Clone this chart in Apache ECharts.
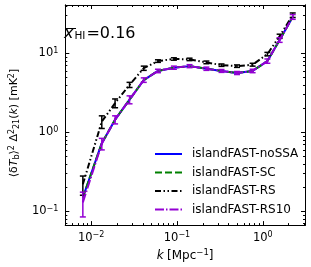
<!DOCTYPE html>
<html><head><meta charset="utf-8">
<script src="https://cdn.jsdelivr.net/npm/echarts@6/dist/echarts.min.js"></script>
<style>html,body{margin:0;padding:0;background:#fff}#c{width:311px;height:267px}</style>
</head><body><div id="c"></div>
<script>
const kVals = [0.008, 0.0133, 0.019, 0.028, 0.041, 0.06, 0.092, 0.14, 0.22, 0.33, 0.5, 0.76, 1.13, 1.57, 2.23];
const noSSA = [0.15, 0.73, 1.45, 2.6, 4.6, 6.0, 6.6, 6.9, 6.4, 6.0, 5.65, 6.0, 8.0, 14.8, 29];
const SC    = [0.15, 0.73, 1.45, 2.6, 4.6, 6.0, 6.6, 6.9, 6.4, 6.0, 5.65, 6.0, 8.0, 14.8, 29];
const RS    = [0.22, 1.37, 2.35, 4.0, 6.5, 8.0, 8.5, 8.4, 7.7, 7.1, 6.9, 7.2, 9.8, 16.5, 30.5];
const RS10  = [0.13, 0.72, 1.45, 2.6, 4.6, 6.0, 6.6, 6.9, 6.4, 6.0, 5.65, 6.0, 8.0, 14.8, 29];
const RSerr   = [0.06, 0.25, 0.3, 0.3, 0.4, 0.3, 0.3, 0.3, 0.3, 0.25, 0.25, 0.3, 0.5, 1.0, 2.0];
const RS10err = [0.045, 0.12, 0.17, 0.3, 0.3, 0.3, 0.3, 0.3, 0.3, 0.25, 0.25, 0.3, 0.5, 1.0, 2.0];
const seriesNames = ['islandFAST-noSSA', 'islandFAST-SC', 'islandFAST-RS', 'islandFAST-RS10'];
const xMajor = [0.01, 0.1, 1];
const yMajor = [0.1, 1, 10];
const xMin = 0.005, xMax = 3.1, yMin = 0.067, yMax = 41;

function minors(lo, hi) {
  const out = [];
  for (let e = Math.floor(Math.log10(lo)); e <= Math.ceil(Math.log10(hi)); e++) {
    for (let m = 2; m <= 9; m++) { const v = m * Math.pow(10, e); if (v >= lo && v <= hi) out.push(v); }
  }
  return out;
}
const xMinor = minors(xMin, xMax), yMinor = minors(yMin, yMax);

const FONT = 'DejaVu Sans';
function powLabel(v) {
  const e = Math.round(Math.log10(v));
  return '{b|10}{s|' + (e < 0 ? '\u2212' + (-e) : e) + '}';
}
const labRich = { b: { fontSize: 11.5, fontFamily: FONT, color: '#000' }, s: { fontSize: 8, fontFamily: FONT, color: '#000', verticalAlign: 'top', padding: [0, 0, 5, 0] } };

function mkX(pos, custom, len, showLabel, extra) {
  return Object.assign({
    type: 'log', logBase: 10, min: xMin, max: xMax, position: pos, gridIndex: 0,
    axisLine: { show: true, onZero: false, lineStyle: { color: '#000', width: 1 } },
    axisTick: { show: true, inside: true, length: len, customValues: custom, lineStyle: { color: '#000', width: 1 } },
    axisLabel: showLabel ? { show: true, customValues: xMajor, formatter: powLabel, rich: labRich, margin: 6 } : { show: false },
    splitLine: { show: false }, minorTick: { show: false }
  }, extra || {});
}
function mkY(pos, custom, len, showLabel, extra) {
  return Object.assign({
    type: 'log', logBase: 10, min: yMin, max: yMax, position: pos, gridIndex: 0,
    axisLine: { show: true, onZero: false, lineStyle: { color: '#000', width: 1 } },
    axisTick: { show: true, inside: true, length: len, customValues: custom, lineStyle: { color: '#000', width: 1 } },
    axisLabel: showLabel ? { show: true, customValues: yMajor, formatter: powLabel, rich: labRich, margin: 7 } : { show: false },
    splitLine: { show: false }, minorTick: { show: false }
  }, extra || {});
}

function pairs(vals) { return kVals.map((k, i) => [k, vals[i]]); }
function errData(vals, errs) { return kVals.map((k, i) => [k, vals[i], errs[i]]); }
function errSeries(name, vals, errs, color, z) {
  return {
    type: 'custom', name: name + '-err', xAxisIndex: 0, yAxisIndex: 0, z: z,
    data: errData(vals, errs), encode: { x: 0, y: 1 }, silent: true,
    renderItem: function (params, api) {
      const k = api.value(0), v = api.value(1), e = api.value(2);
      const p1 = api.coord([k, Math.max(v - e, 1e-4)]);
      const p2 = api.coord([k, v + e]);
      const st = { stroke: color, lineWidth: 1.5 };
      return { type: 'group', children: [
        { type: 'line', shape: { x1: p1[0], y1: p1[1], x2: p2[0], y2: p2[1] }, style: st },
        { type: 'line', shape: { x1: p1[0] - 3, y1: p1[1], x2: p1[0] + 3, y2: p1[1] }, style: st },
        { type: 'line', shape: { x1: p2[0] - 3, y1: p2[1], x2: p2[0] + 3, y2: p2[1] }, style: st }
      ] };
    }
  };
}
function lineSeries(name, vals, color, dash, z) {
  return {
    type: 'line', name: name, data: pairs(vals), xAxisIndex: 0, yAxisIndex: 0, z: z,
    symbol: 'none', showSymbol: false, smooth: false,
    lineStyle: { color: color, width: 2, type: dash },
    itemStyle: { color: color }
  };
}

const chart = echarts.init(document.getElementById('c'), null, { renderer: 'canvas' });
chart.setOption({
  animation: false,
  backgroundColor: '#fff',
  grid: { left: 49, right: 6, top: 5, bottom: 36, containLabel: false },
  xAxis: [
    mkX('bottom', xMajor, 4, true, { name: '{i|k} {n|[Mpc}{s|\u22121}{n|]}', nameLocation: 'middle', nameGap: 21,
      nameTextStyle: { rich: { i: { fontSize: 12, fontFamily: FONT, fontStyle: 'italic', color: '#000' }, n: { fontSize: 12, fontFamily: FONT, color: '#000' }, s: { fontSize: 8.5, fontFamily: FONT, color: '#000', verticalAlign: 'top', padding: [0, 0, 6, 0] } } } }),
    mkX('bottom', xMinor, 2, false),
    mkX('top', xMajor, 4, false),
    mkX('top', xMinor, 2, false)
  ],
  yAxis: [
    mkY('left', yMajor, 4, true, { name: '{n|\u27E8\u03B4}{i|T}{sb|b}{n|\u27E9}{sp|2}{n| \u0394}{sp|2}{sb|21}{n|(}{i|k}{n|) [mK}{sp|2}{n|]}', nameLocation: 'middle', nameGap: 31, nameRotate: 90,
      nameTextStyle: { padding: [0, 16, 0, 0], rich: {
        n: { fontSize: 11, fontFamily: FONT, color: '#000' },
        i: { fontSize: 11, fontFamily: FONT, fontStyle: 'italic', color: '#000' },
        sp: { fontSize: 8, fontFamily: FONT, color: '#000', verticalAlign: 'top', padding: [0, 0, 5, 0] },
        sb: { fontSize: 8, fontFamily: FONT, color: '#000', verticalAlign: 'bottom', padding: [4, 0, 0, 0] } } } }),
    mkY('left', yMinor, 2, false),
    mkY('right', yMajor, 4, false),
    mkY('right', yMinor, 2, false)
  ],
  legend: {
    data: seriesNames, orient: 'vertical', left: 149, top: 143,
    itemWidth: 27, itemHeight: 12, itemGap: 6.5,
    itemStyle: { opacity: 0 },
    textStyle: { fontSize: 12, fontFamily: FONT, color: '#000', padding: [0, 0, 0, 5] }
  },
  graphic: [
    { type: 'text', left: 64, top: 26, style: {
      text: '{x|x}{s|HI}{n|=0.16}',
      rich: {
        x: { fontSize: 16, fontFamily: FONT, fontStyle: 'italic', fill: '#000' },
        s: { fontSize: 10.5, fontFamily: FONT, fill: '#000', verticalAlign: 'bottom', padding: [5, 1, 0, 1] },
        n: { fontSize: 16, fontFamily: FONT, fill: '#000' }
      } } },
    { type: 'line', shape: { x1: 65, y1: 28.5, x2: 76, y2: 28.5 }, style: { stroke: '#000', lineWidth: 1 } }
  ],
  series: [
    lineSeries(seriesNames[0], noSSA, '#0000ff', 'solid', 2),
    lineSeries(seriesNames[1], SC, '#008000', [7, 3], 3),
    errSeries(seriesNames[2], RS, RSerr, '#000', 4),
    lineSeries(seriesNames[2], RS, '#000000', [6, 2.5, 1.5, 2.5, 1.5, 2.5], 4),
    errSeries(seriesNames[3], RS10, RS10err, '#9400d3', 5),
    lineSeries(seriesNames[3], RS10, '#9400d3', [9, 2, 1.5, 2], 5)
  ]
});
</script></body></html>
